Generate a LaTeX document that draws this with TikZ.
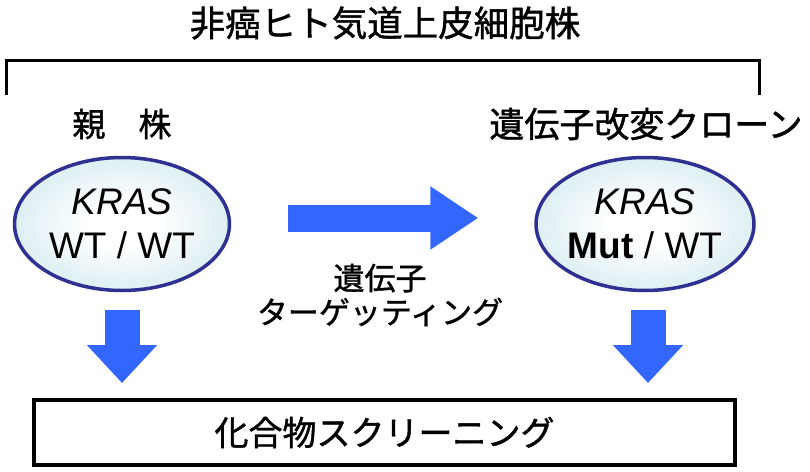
\documentclass[tikz,border=0pt]{standalone}
\usepackage{fontspec}
\setmainfont{Liberation Sans}
\newfontfamily\jpfont[FakeBold=1.2]{Noto Sans CJK JP}
\usetikzlibrary{shapes.geometric}
\usetikzlibrary{arrows.meta}

\definecolor{cellline}{RGB}{46,49,146}
\definecolor{cellfill}{RGB}{172,214,224}
\definecolor{flowblue}{RGB}{51,102,255}
\pgfdeclareradialshading{cellshade}{\pgfpoint{0bp}{0bp}}{color(0bp)=(white); color(8bp)=(white); color(50bp)=(cellfill)}

\begin{document}
\begin{tikzpicture}[x=1pt,y=-1pt,
     jp/.style={font=\jpfont\fontsize{#1}{#1}\selectfont,inner sep=0pt},
     cell/.style={ellipse,draw=cellline,line width=3.5pt,shading=cellshade,
       minimum width=215pt,minimum height=133pt,inner sep=0pt,align=center,
       font=\fontsize{37}{44}\selectfont},
     downflow/.style={flowblue,line width=35pt,shorten <=18pt,shorten >=15pt,
       -{Triangle[width=68pt,length=38pt]}},
     sideflow/.style={flowblue,line width=27pt,shorten <=57pt,shorten >=56pt,
       -{Triangle[width=60pt,length=48pt]}}
   ]
   \useasboundingbox (0,0) rectangle (810,471);
   % Cell lines.
   \node[jp=35.5] (title) at (385,23) {非癌ヒト気道上皮細胞株};
   \coordinate (brleft) at (6,95);
   \coordinate (brright) at (759,95);
   \draw[line width=3pt] (brleft) |- (title.south |- 0,60) -| (brright);
   \node[jp=33] (parentlabel) at (122,124) {親　株};
   \node[jp=35] (clonelabel) at (646,124) {遺伝子改変クローン};
   \node[cell] (parent) at (122,224) {\textit{KRAS}\\WT / WT};
   \node[cell] (clone) at (645,224) {\textit{KRAS}\\\textbf{Mut} / WT};
   % Screening.
   \node[draw,line width=4pt,minimum width=701pt,minimum height=65pt,
     jp=34] (screen) at (384.5,432.5) {化合物スクリーニング};
   % Arrows.
   \draw[sideflow] ([yshift=6pt]parent.east) -- ([yshift=6pt]clone.west);
   \node[jp=31,align=center] (targeting) at (380,295)
     {遺伝子\\[3pt]ターゲッティング};
   \draw[downflow] (parent.south) -- (parent.south |- screen.north);
   \draw[downflow] ([xshift=3pt]clone.south) -- ([xshift=3pt]clone.south |- screen.north);
 \end{tikzpicture}
\end{document}
